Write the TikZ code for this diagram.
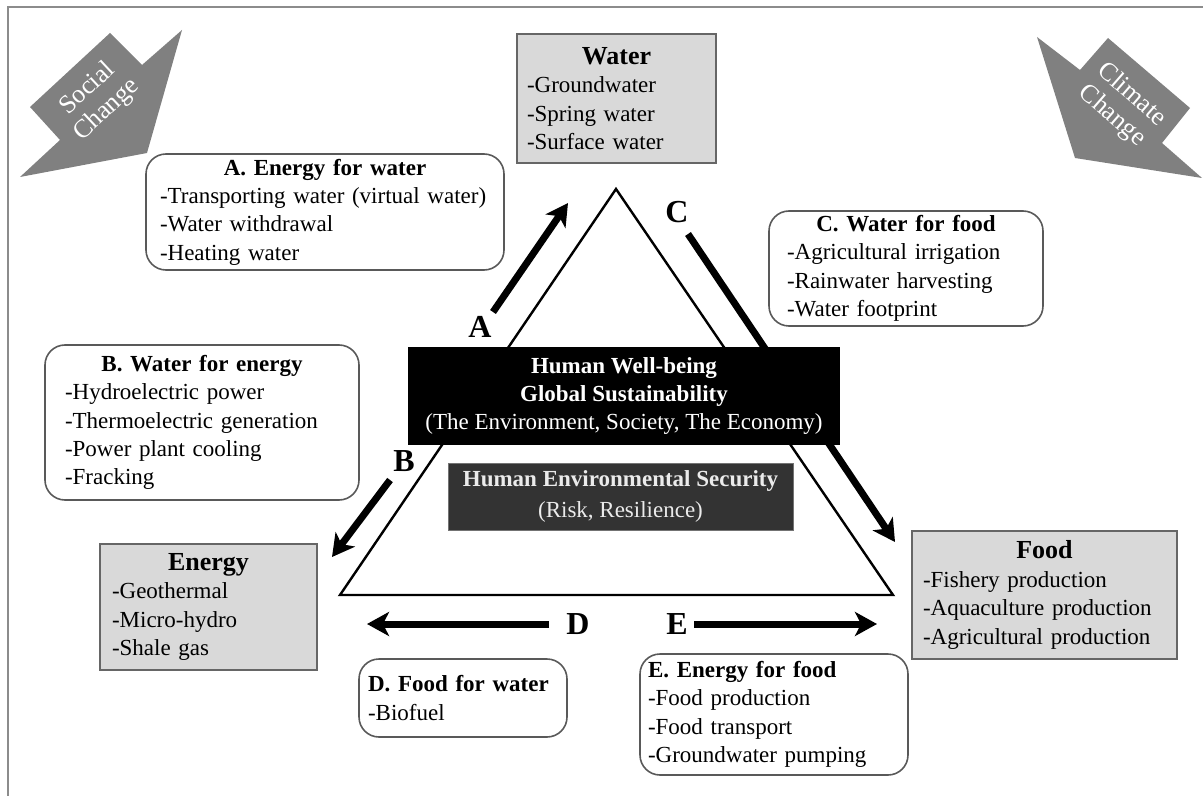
\documentclass[tikz,border=0pt]{standalone}
\usepackage{fontspec}
\setmainfont{Liberation Serif}
\usetikzlibrary{arrows.meta}
\newcommand{\boxhead}[1]{\noindent\makebox[\hsize][c]{\bfseries #1}}
\newcommand{\bighead}[1]{\noindent\makebox[\hsize][c]{\fontsize{13}{14}\selectfont\bfseries #1}}

\begin{document}
\begin{tikzpicture}[x=0.5pt, y=-0.5pt, >=Stealth,
    every node/.style={font=\fontsize{11.5}{14.2}\selectfont},
    linkbox/.style={draw=black!65, rounded corners=10pt, line width=0.8pt, align=left, inner ysep=2pt},
    resbox/.style={draw=black!60, fill=black!15, line width=0.8pt, align=left, inner ysep=2pt},
    flow/.style={line width=3.5pt, -{Stealth[length=11pt,width=12pt,inset=3pt]}},
    tag/.style={font=\fontsize{16}{16}\selectfont\bfseries, inner sep=0pt},
    drift/.style={fill=black!50},
    drifttext/.style={text=white, inner sep=0pt, font=\fontsize{13}{15}\selectfont}]

  \useasboundingbox (0,0) rectangle (1203,796);
  \draw[black!45, line width=1pt] (8,796) -- (8,7) -- (1203,7);

  \fill[drift] (30,107) -- (110,33) -- (142,65) -- (182,30) -- (147,153) -- (20,177) -- (60,140) -- cycle;
  \node[drifttext, rotate=43] (social) at (86,87) {Social};
  \node[drifttext, rotate=43] (schange) at (107,110) {Change};
  \fill[drift] (1080,70) -- (1108,38) -- (1190,108) -- (1162,143) -- (1202,178) -- (1075,158) -- (1037,37) -- cycle;
  \node[drifttext, rotate=-41] (climate) at (1133,93) {Climate};
  \node[drifttext, rotate=-41] (cchange) at (1112,116) {Change};

  \coordinate (top) at (616,189);
  \coordinate (bl) at (340,595);
  \coordinate (br) at (893,595);
  \draw[line width=1.2pt] (top) -- (br) -- (bl) -- cycle;

  \coordinate (aS) at (493,312); \coordinate (aE) at (568,203);
  \coordinate (bS) at (390,480); \coordinate (bE) at (332,557);
  \coordinate (cS) at (688,234); \coordinate (cE) at (895,542);
  \coordinate (dS) at (549,624); \coordinate (dE) at (367,624);
  \coordinate (eS) at (694,624); \coordinate (eE) at (877,624);
  \draw[flow] (aS) -- (aE);
  \draw[flow] (bS) -- (bE);
  \draw[flow] (cS) -- (cE);
  \draw[flow] (dS) -- (dE);
  \draw[flow] (eS) -- (eE);

  \node[tag] (tagA) at (480,327) {A};
  \node[tag] (tagB) at (404,461) {B};
  \node[tag] (tagC) at (677,212) {C};
  \node[tag] (tagD) at (578,624) {D};
  \node[tag] (tagE) at (677,624) {E};

  \node[resbox, minimum width=99.5pt, minimum height=64.5pt, inner xsep=5pt, text width=89.5pt] (water) at (616.5,98.5)
    {\bighead{Water}\\-Groundwater\\-Spring water\\-Surface water};
  \node[resbox, minimum width=108.5pt, minimum height=63pt, inner xsep=6pt, text width=96.5pt] (energy) at (208.5,607)
    {\bighead{Energy}\\-Geothermal\\-Micro-hydro\\-Shale gas};
  \node[resbox, minimum width=132.5pt, minimum height=64pt, inner xsep=5.5pt, text width=121.5pt] (food) at (1044.5,595)
    {\bighead{Food}\\-Fishery production\\-Aquaculture production\\-Agricultural production};

  \node[linkbox, minimum width=179pt, minimum height=58pt, inner xsep=7pt, text width=165pt] (ewater) at (325,212)
    {\boxhead{A. Energy for water}\\-Transporting water (virtual water)\\-Water withdrawal\\-Heating water};
  \node[linkbox, minimum width=157pt, minimum height=77.5pt, inner xsep=10pt, text width=137pt] (wenergy) at (202,422.5)
    {\boxhead{B. Water for energy}\\-Hydroelectric power\\-Thermoelectric generation\\-Power plant cooling\\-Fracking};
  \node[linkbox, minimum width=137pt, minimum height=57.5pt, inner xsep=9pt, text width=119pt] (wfood) at (906,268.5)
    {\boxhead{C. Water for food}\\-Agricultural irrigation\\-Rainwater harvesting\\-Water footprint};
  \node[linkbox, minimum width=104pt, minimum height=39pt, inner xsep=4.5pt, text width=95pt] (fwater) at (463,698)
    {\textbf{D. Food for water}\\-Biofuel};
  \node[linkbox, minimum width=134pt, minimum height=60.5pt, inner xsep=4pt, text width=126pt] (efood) at (774,714.5)
    {\textbf{E. Energy for food}\\-Food production\\-Food transport\\-Groundwater pumping};

  \node[fill=black, text=white, minimum width=216pt, minimum height=49pt, align=center, inner sep=0pt] (wellbeing) at (624,396)
    {\textbf{Human Well-being}\\\textbf{Global Sustainability}\\(The Environment, Society, The Economy)};
  \node[fill=black!80, draw=black!55, text=white!92!black, minimum width=172.5pt, minimum height=33.5pt, align=center, inner sep=0pt] (security) at (620.5,496.5)
    {\textbf{Human Environmental Security}\\[1pt](Risk, Resilience)};
\end{tikzpicture}
\end{document}
